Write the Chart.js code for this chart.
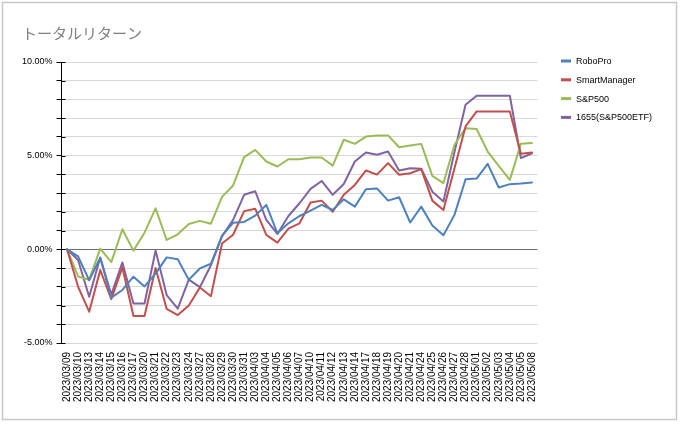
<!DOCTYPE html>
<html>
<head>
<meta charset="utf-8">
<script src="https://cdn.jsdelivr.net/npm/chart.js@4.4.1/dist/chart.umd.min.js"></script>
<style>
html,body{margin:0;padding:0;background:#fff;}
#wrap{position:relative;width:680px;height:424px;}
canvas{display:block;}
</style>
</head>
<body>
<div id="wrap"><canvas id="c" width="680" height="424"></canvas></div>
<script>
const title = 'トータルリターン';
const dates = ['2023/03/09','2023/03/10','2023/03/13','2023/03/14','2023/03/15','2023/03/16','2023/03/17','2023/03/20','2023/03/21','2023/03/22','2023/03/23','2023/03/24','2023/03/27','2023/03/28','2023/03/29','2023/03/30','2023/03/31','2023/04/03','2023/04/04','2023/04/05','2023/04/06','2023/04/07','2023/04/10','2023/04/11','2023/04/12','2023/04/13','2023/04/14','2023/04/17','2023/04/18','2023/04/19','2023/04/20','2023/04/21','2023/04/24','2023/04/25','2023/04/26','2023/04/27','2023/04/28','2023/05/01','2023/05/02','2023/05/03','2023/05/04','2023/05/05','2023/05/08'];
const seriesNames = ['RoboPro','SmartManager','S&P500','1655(S&P500ETF)'];
const roboPro = [0,-0.38,-1.65,-0.45,-2.58,-2.17,-1.46,-1.98,-1.3,-0.43,-0.53,-1.62,-1.02,-0.77,0.73,1.42,1.46,1.8,2.37,0.86,1.39,1.78,2.07,2.37,2.10,2.67,2.28,3.21,3.25,2.60,2.78,1.43,2.28,1.27,0.75,1.84,3.74,3.78,4.56,3.30,3.48,3.51,3.57];
const smartManager = [0,-2.0,-3.33,-1.11,-2.66,-0.97,-3.56,-3.56,-1.0,-3.18,-3.51,-3.0,-2.04,-2.5,0.31,0.78,2.04,2.17,0.77,0.36,1.11,1.39,2.50,2.60,2.01,2.91,3.44,4.21,3.99,4.60,3.98,4.06,4.28,2.60,2.10,4.33,6.56,7.36,7.36,7.36,7.36,5.10,5.17];
const sp500 = [0,-1.45,-1.62,0.04,-0.68,1.07,-0.07,0.89,2.19,0.50,0.80,1.35,1.52,1.37,2.80,3.41,4.92,5.31,4.69,4.42,4.81,4.81,4.90,4.90,4.47,5.85,5.63,6.02,6.08,6.08,5.45,5.54,5.63,3.92,3.53,5.58,6.47,6.42,5.22,4.46,3.71,5.63,5.67];
const etf1655 = [0,-0.57,-2.53,-0.44,-2.42,-0.70,-2.89,-2.89,-0.06,-2.44,-3.17,-1.62,-2.02,-0.85,0.69,1.57,2.91,3.10,1.57,0.82,1.78,2.46,3.23,3.65,2.91,3.49,4.69,5.17,5.05,5.22,4.21,4.33,4.30,3.08,2.55,5.2,7.72,8.20,8.20,8.20,8.20,4.87,5.13];
const yLabelValues = [-5, 0, 5, 10];

const colors = ['#4F81BD','#C0504D','#9BBB59','#8064A2'];
const seriesValues = [roboPro, smartManager, sp500, etf1655];

const frameTitleLegend = {
  id: 'frameTitleLegend',
  beforeDraw(chart) {
    const ctx = chart.ctx;
    ctx.save();
    ctx.fillStyle = '#fff';
    ctx.fillRect(0, 0, chart.width, chart.height);
    ctx.strokeStyle = '#c8c8c8';
    ctx.lineWidth = 1.5;
    ctx.strokeRect(2.5, 2.5, 674, 417);
    // title
    ctx.fillStyle = '#808080';
    ctx.font = "15px 'Noto Sans CJK JP', sans-serif";
    ctx.textAlign = 'left';
    ctx.textBaseline = 'middle';
    ctx.fillText(title, 22, 33);
    ctx.restore();
  },
  afterDraw(chart) {
    const ctx = chart.ctx;
    ctx.save();
    // inner part of y-axis tick marks (crossing the axis)
    const ys = chart.scales.y;
    ctx.strokeStyle = '#000';
    ctx.lineWidth = 1;
    ys.ticks.forEach(t => {
      const y = Math.round(ys.getPixelForValue(t.value)) + 0.5;
      ctx.beginPath();
      ctx.moveTo(ys.right, y);
      ctx.lineTo(ys.right + 4, y);
      ctx.stroke();
    });
    // legend
    const lx = 561, ly0 = 61, step = 18.8;
    ctx.font = "9px 'Liberation Sans', Arial, sans-serif";
    ctx.textBaseline = 'middle';
    ctx.textAlign = 'left';
    chart.data.datasets.forEach((ds, i) => {
      const y = ly0 + i * step;
      ctx.strokeStyle = ds.borderColor;
      ctx.lineWidth = 3;
      ctx.beginPath();
      ctx.moveTo(lx, y);
      ctx.lineTo(lx + 10, y);
      ctx.stroke();
      ctx.fillStyle = '#000';
      ctx.fillText(ds.label, lx + 15, y + 0.5);
    });
    ctx.restore();
  }
};

new Chart(document.getElementById('c'), {
  type: 'line',
  data: {
    labels: dates,
    datasets: seriesNames.map((name, i) => ({
      label: name,
      data: seriesValues[i],
      borderColor: colors[i],
      backgroundColor: colors[i],
      borderWidth: 2,
      pointRadius: 0,
      tension: 0,
      fill: false,
      borderJoinStyle: 'round',
      borderCapStyle: 'round'
    }))
  },
  options: {
    responsive: false,
    animation: false,
    devicePixelRatio: 1,
    layout: { padding: { left: 0, right: 142.5, top: 62, bottom: 0 } },
    plugins: {
      legend: { display: false },
      tooltip: { enabled: false },
      title: { display: false }
    },
    scales: {
      x: {
        type: 'category',
        offset: true,
        grid: { display: false },
        border: { display: false },
        ticks: {
          autoSkip: false,
          minRotation: 90,
          maxRotation: 90,
          padding: 1,
          color: '#000',
          font: { family: "'Liberation Sans', Arial, sans-serif", size: 10 }
        },
        afterFit(s) { s.height = 81; }
      },
      y: {
        min: -5,
        max: 10,
        ticks: {
          stepSize: 1,
          padding: 4,
          color: '#000',
          font: { family: "'Liberation Sans', Arial, sans-serif", size: 9 },
          callback(v) { return yLabelValues.includes(v) ? v.toFixed(2) + '%' : ''; }
        },
        grid: {
          color(c) { return c.tick && c.tick.value === 0 ? '#6e6e6e' : '#d9d9d9'; },
          lineWidth: 1,
          tickColor: '#000',
          tickLength: 5
        },
        border: { display: true, color: '#000', width: 1 },
        afterFit(s) { s.width = 61.5; }
      }
    }
  },
  plugins: [frameTitleLegend]
});
</script>
</body>
</html>
